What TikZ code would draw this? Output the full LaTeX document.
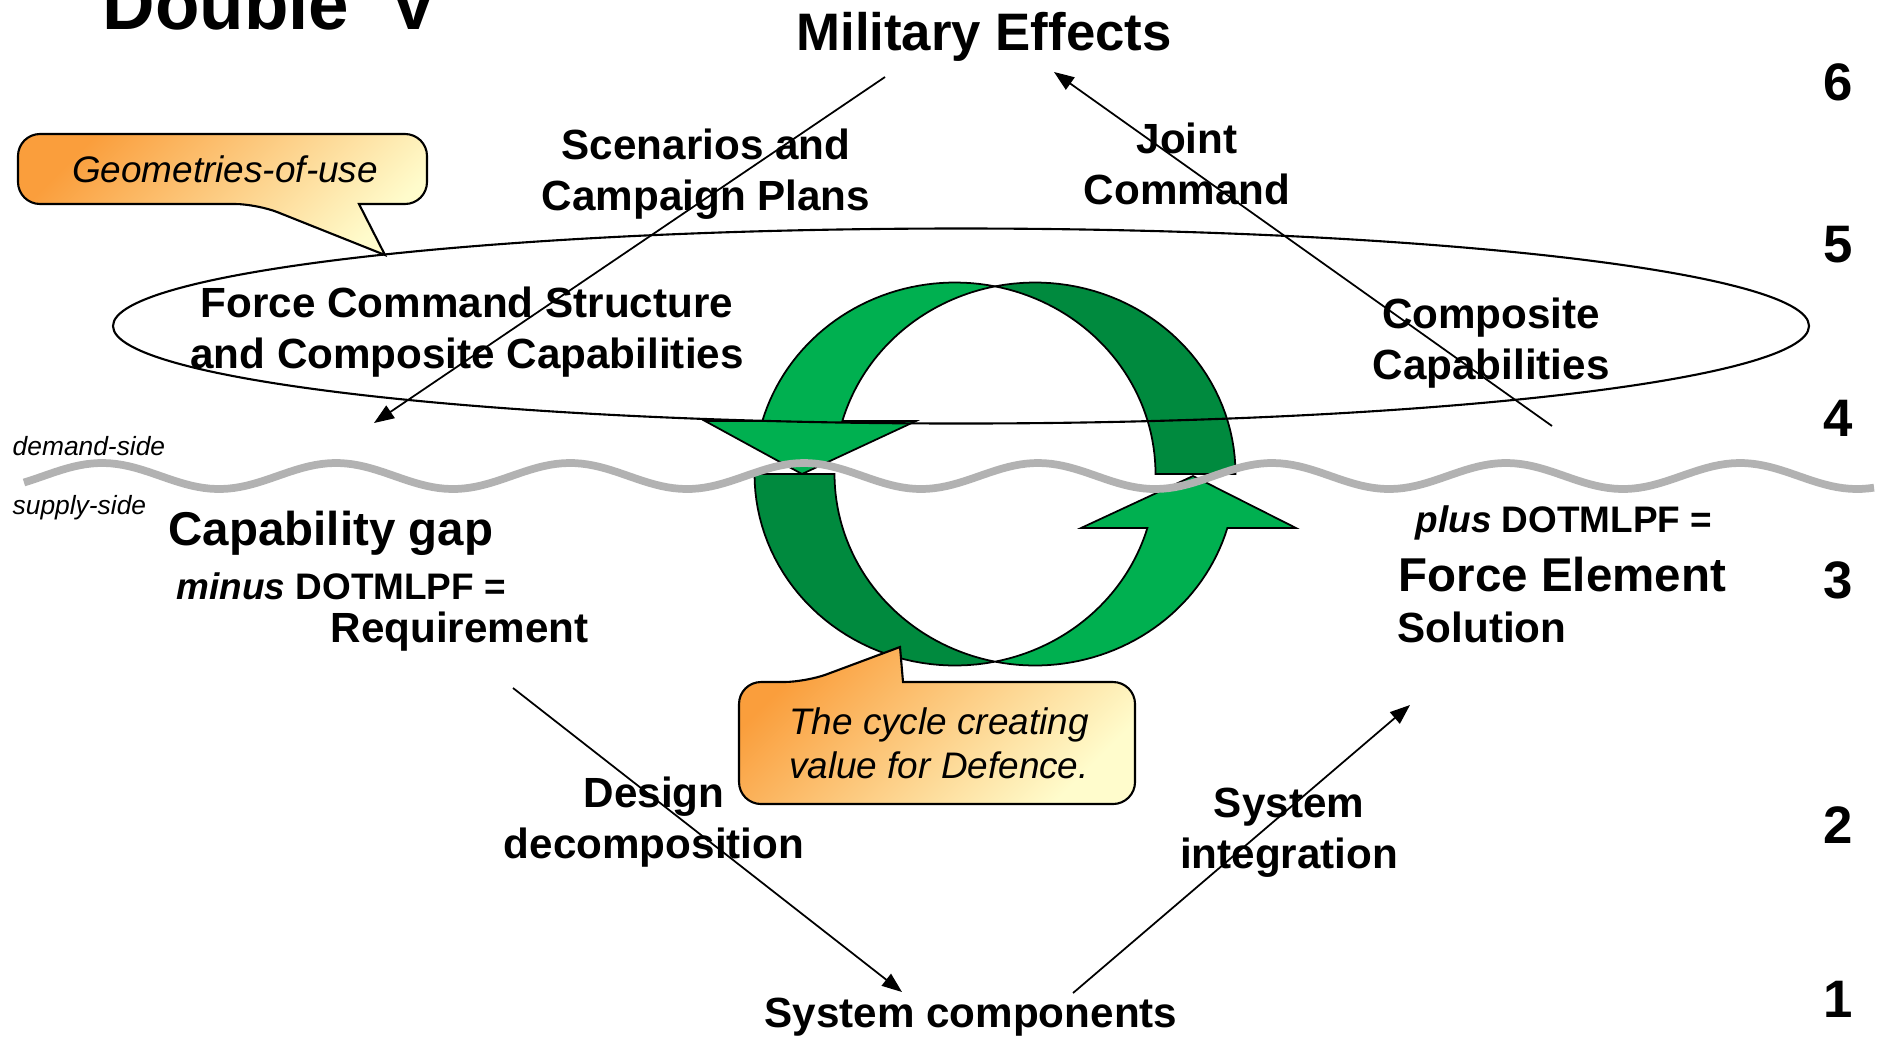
\documentclass[tikz,border=0pt]{standalone}
\usepackage{fontspec}
\setmainfont{Liberation Sans}
\usetikzlibrary{arrows.meta}

\definecolor{ringlight}{RGB}{0,176,80}
\definecolor{ringdark}{RGB}{0,138,62}
\definecolor{calloutorange}{RGB}{250,158,60}
\definecolor{calloutpale}{RGB}{255,252,204}
\definecolor{wavegray}{RGB}{178,178,178}

\begin{document}
\begin{tikzpicture}[
			x=0.01cm, y=-0.01cm,
			textlabel/.style={font=\bfseries\fontsize{12}{14.5}\selectfont, inner sep=0pt, align=center},
			biglabel/.style={font=\bfseries\fontsize{13.5}{16}\selectfont, inner sep=0pt},
			toplabel/.style={font=\bfseries\fontsize{15}{18}\selectfont, inner sep=0pt},
			titlelabel/.style={font=\bfseries\fontsize{20.7}{24}\selectfont, inner sep=0pt},
			formula/.style={font=\bfseries\fontsize{10.5}{12.5}\selectfont, inner sep=0pt},
			note/.style={font=\itshape\fontsize{10.5}{12.5}\selectfont, inner sep=0pt, align=center},
			sidenote/.style={font=\itshape\fontsize{7.5}{9}\selectfont, inner sep=0pt},
			levelnum/.style={font=\bfseries\fontsize{15}{18}\selectfont, inner sep=0pt},
			band/.style={draw=black, line width=0.5pt},
			callout/.style={draw=black, line width=0.6pt, top color=calloutorange, bottom color=calloutpale, shading angle=45},
			arrow/.style={
				-{Triangle[length=2mm,width=1.5mm]},
				line width=0.5pt,
				draw=black
			}
			]
			\fill[white] (0,0) rectangle (1877,1036);
			\useasboundingbox (0,0) rectangle (1877,1036);
			
			% 绿色循环箭头
			\filldraw[band, fill=ringlight] plot[domain=78.5:163.9, samples=40] ({955+200.5*cos(\x)}, {474-191.5*sin(\x)})
				-- (705,421) -- (802,474) -- (916,421)
				-- plot[domain=163.9:101.5, samples=40] ({1035+200.5*cos(\x)}, {474-191.5*sin(\x)}) -- cycle;
			\filldraw[band, fill=ringdark] plot[domain=180:281.5, samples=40] ({955+200.5*cos(\x)}, {474-191.5*sin(\x)})
				-- plot[domain=258.5:180, samples=40] ({1035+200.5*cos(\x)}, {474-191.5*sin(\x)}) -- cycle;
			\filldraw[band, fill=ringdark] plot[domain=101.5:0, samples=40] ({1035+200.5*cos(\x)}, {474-191.5*sin(\x)})
				-- plot[domain=0:78.5, samples=40] ({955+200.5*cos(\x)}, {474-191.5*sin(\x)}) -- cycle;
			\filldraw[band, fill=ringlight] plot[domain=-78.5:-16.4, samples=40] ({955+200.5*cos(\x)}, {474-191.5*sin(\x)})
				-- (1081,528) -- (1193,476) -- (1296,528)
				-- plot[domain=-16.4:-101.5, samples=40] ({1035+200.5*cos(\x)}, {474-191.5*sin(\x)}) -- cycle;
			
			% 椭圆与分界线
			\draw[line width=0.6pt] (961,326) ellipse [x radius=848, y radius=97.5];
			\draw[wavegray, line width=2.2pt] plot[domain=24:1874, samples=300] (\x, {476-13*cos((\x-102)/234*360)});
			
			% 标注框
			\path[callout] (222,134) [rounded corners=0.22cm] -- (18,134) -- (18,204) -- (257,204)
				[sharp corners] -- (385,255) -- (359,204) [rounded corners=0.22cm] -- (427,204) -- (427,134) -- cycle;
			\node[note, anchor=base] (geomtext) at (225,182) {Geometries-of-use};
			\path[callout] (1000,804) [rounded corners=0.22cm] -- (739,804) -- (739,682) -- (806,682)
				[sharp corners] -- (900,647) -- (903,682) [rounded corners=0.22cm] -- (1135,682) -- (1135,804) -- cycle;
			\node[note, anchor=north] (cycletext) at (939,707) {The cycle creating\\value for Defence.};
			
			% 文字
			\node[titlelabel, anchor=base west] (title) at (102,29) {Double ‘V’};
			\node[toplabel, anchor=base] (effects) at (984,50) {Military Effects};
			\node[textlabel, anchor=north] (scenarios) at (706,128) {Scenarios and\\Campaign Plans};
			\node[textlabel, anchor=north] (joint) at (1187,122) {Joint\\Command};
			\node[textlabel, anchor=north] (forcecmd) at (467,286) {Force Command Structure\\and Composite Capabilities};
			\node[textlabel, anchor=north] (composite) at (1491,297) {Composite\\Capabilities};
			\node[sidenote, anchor=base west] (demand) at (12,455) {demand-side};
			\node[sidenote, anchor=base west] (supply) at (12,514) {supply-side};
			\node[biglabel, anchor=base west] (gap) at (168,545) {Capability gap};
			\node[formula, anchor=base west] (minus) at (176,599) {\textit{minus} DOTMLPF =};
			\node[textlabel, anchor=base west] (requirement) at (330,642) {Requirement};
			\node[formula, anchor=base west] (plus) at (1415,532) {\textit{plus} DOTMLPF =};
			\node[biglabel, anchor=base west] (element) at (1398,591) {Force Element};
			\node[textlabel, anchor=base west] (solution) at (1397,642) {Solution};
			\node[textlabel, anchor=north] (design) at (654,776) {Design\\decomposition};
			\node[textlabel, anchor=north] (integration) at (1289,787) {System\\integration};
			\node[textlabel, anchor=base] (components) at (971,1027) {System components};
			
			% 层级编号
			\foreach \n/\yy in {6/100, 5/262, 4/436, 3/598, 2/843, 1/1017}
				\node[levelnum, anchor=base] (level\n) at (1838,\yy) {\n};
			
			% 箭头
			\coordinate (plantop) at (885,77);
			\coordinate (planbottom) at (374,423);
			\coordinate (jointbottom) at (1552,426);
			\coordinate (jointtop) at (1054,72);
			\coordinate (designtop) at (513,688);
			\coordinate (designbottom) at (902,992);
			\coordinate (integbottom) at (1073,993);
			\coordinate (integtop) at (1410,705);
			\draw[arrow] (plantop) -- (planbottom);
			\draw[arrow] (jointbottom) -- (jointtop);
			\draw[arrow] (designtop) -- (designbottom);
			\draw[arrow] (integbottom) -- (integtop);
		\end{tikzpicture}
\end{document}
